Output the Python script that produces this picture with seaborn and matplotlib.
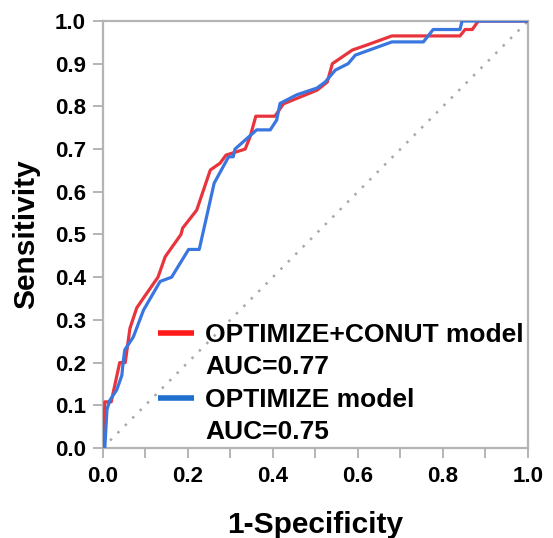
import pandas as pd
import seaborn as sns
import matplotlib.pyplot as plt
from matplotlib.lines import Line2D
from matplotlib.ticker import MultipleLocator

# ROC points
red_fpr = [0.0, 0.003, 0.005, 0.02, 0.04, 0.053, 0.064, 0.08, 0.095, 0.13, 0.147,
           0.184, 0.188, 0.221, 0.253, 0.276, 0.29, 0.335, 0.347, 0.36, 0.405, 0.425,
           0.504, 0.528, 0.54, 0.587, 0.622, 0.68, 0.84, 0.852, 0.869, 0.883, 1.0]
red_tpr = [0.0, 0.0, 0.108, 0.108, 0.2, 0.2, 0.28, 0.328, 0.35, 0.40, 0.448,
           0.50, 0.515, 0.557, 0.651, 0.667, 0.686, 0.70, 0.73, 0.777, 0.777, 0.806,
           0.838, 0.857, 0.90, 0.932, 0.944, 0.965, 0.965, 0.98, 0.98, 1.0, 1.0]

blue_fpr = [0.0, 0.005, 0.01, 0.017, 0.033, 0.045, 0.048, 0.052, 0.072, 0.096, 0.135,
            0.162, 0.202, 0.227, 0.262, 0.296, 0.307, 0.311, 0.362, 0.394, 0.409, 0.417,
            0.456, 0.504, 0.523, 0.547, 0.577, 0.594, 0.68, 0.754, 0.777, 0.84, 0.845, 1.0]
blue_tpr = [0.0, 0.0, 0.09, 0.112, 0.136, 0.17, 0.2, 0.23, 0.26, 0.323, 0.39,
            0.40, 0.465, 0.465, 0.62, 0.682, 0.682, 0.70, 0.745, 0.745, 0.768, 0.807,
            0.827, 0.843, 0.857, 0.885, 0.90, 0.92, 0.951, 0.951, 0.98, 0.98, 1.0, 1.0]

models = ['OPTIMIZE+CONUT model', 'OPTIMIZE model']
auc_labels = ['AUC=0.77', 'AUC=0.75']
colors = ['#e8343c', '#3a76e0']
leg_colors = ['#ff1a1a', '#1f6fcc']

df = pd.concat([
    pd.DataFrame({'fpr': red_fpr, 'tpr': red_tpr, 'model': models[0]}),
    pd.DataFrame({'fpr': blue_fpr, 'tpr': blue_tpr, 'model': models[1]}),
])

sns.set_style('white')
plt.rcParams['font.family'] = ['Liberation Sans', 'DejaVu Sans']
plt.rcParams['font.weight'] = 'bold'
plt.rcParams['text.color'] = 'black'
plt.rcParams['xtick.labelcolor'] = 'black'
plt.rcParams['ytick.labelcolor'] = 'black'
plt.rcParams['axes.labelcolor'] = 'black'

fig = plt.figure(figsize=(5.53, 5.38), dpi=100)
ax = fig.add_axes([0.1857, 0.1673, 0.7691, 0.7937])

# diagonal reference line
ax.plot([0, 1], [0, 1], color='#a8a8a8', lw=1.8, ls=(0, (1, 3.2)), zorder=1)

sns.lineplot(data=df, x='fpr', y='tpr', hue='model', palette=colors,
             sort=False, estimator=None, lw=2.3, ax=ax, zorder=3, legend=False)

ax.set_xlim(0, 1)
ax.set_ylim(0, 1)
ax.xaxis.set_major_locator(MultipleLocator(0.2))
ax.xaxis.set_minor_locator(MultipleLocator(0.1))
ax.yaxis.set_major_locator(MultipleLocator(0.1))
ax.xaxis.set_major_formatter(lambda v, p: f'{v:.1f}')
ax.yaxis.set_major_formatter(lambda v, p: f'{v:.1f}')

for s in ax.spines.values():
    s.set_color('#b4b4b4')
    s.set_linewidth(1.6)

ax.tick_params(axis='both', which='both', direction='out', color='#b4b4b4',
               width=1.4, length=7, labelsize=16, pad=5)
ax.tick_params(axis='x', which='both', bottom=True, pad=6)
ax.tick_params(axis='y', left=True)

ax.set_xlabel('1-Specificity', fontsize=21.5, fontweight='bold', labelpad=17)
ax.set_ylabel('Sensitivity', fontsize=21.5, fontweight='bold', labelpad=11)

# legend: coloured handle on the model line, AUC on its own line below
handles, texts = [], []
for m, a, c in zip(models, auc_labels, leg_colors):
    handles.append(Line2D([], [], color=c, lw=4, solid_capstyle='butt'))
    texts.append(m)
    handles.append(Line2D([], [], color='none'))
    texts.append(a)
ax.legend(handles, texts, loc='lower left', bbox_to_anchor=(0.099, -0.022),
          frameon=False, prop={'size': 19, 'weight': 'bold'}, borderpad=0,
          handlelength=1.35, handletextpad=0.45, labelspacing=0.32)

fig.savefig('out.png', dpi=100)
